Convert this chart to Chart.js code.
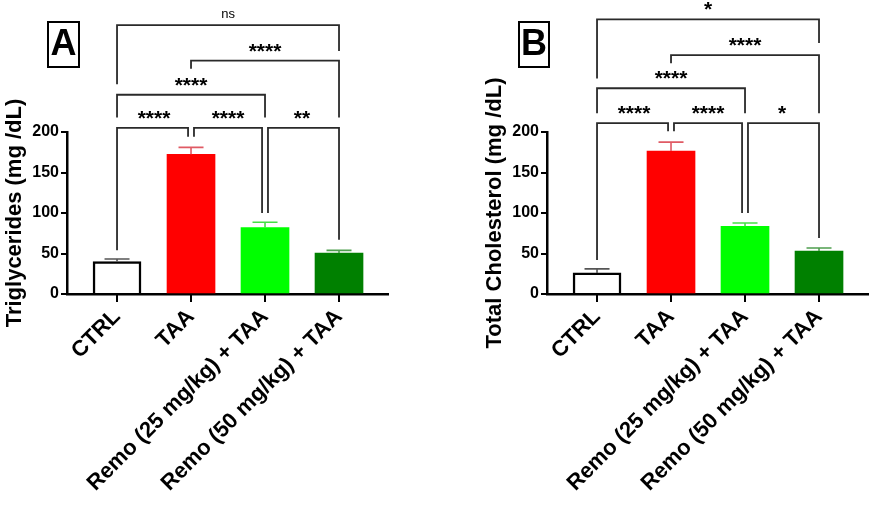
<!DOCTYPE html>
<html>
<head>
<script src="https://cdn.jsdelivr.net/npm/chart.js@4"></script>
<style>
  body { margin: 0; background: #fff; }
  .panel { position: absolute; top: 0; height: 505px; }
  #wrapA { left: 0; width: 480px; }
  #wrapB { left: 480px; width: 392px; }
</style>
</head>
<body>
<div class="panel" id="wrapA"><canvas id="chartA"></canvas></div>
<div class="panel" id="wrapB"><canvas id="chartB"></canvas></div>
<script>
const categories = ['CTRL', 'TAA', 'Remo (25 mg/kg) + TAA', 'Remo (50 mg/kg) + TAA'];
const trigMean = [40, 172.5, 82, 50.5];
const trigSem = [3.3, 8.5, 6.5, 3.3];
const cholMean = [26, 176.5, 83.5, 53];
const cholSem = [5, 11, 4.2, 3.8];
const yTicks = [0, 50, 100, 150, 200];

// multiple comparisons, same order for both panels
const pairs = [[0, 1], [1, 2], [2, 3], [0, 2], [1, 3], [0, 3]];
const trigSig = ['****', '****', '**', '****', '****', 'ns'];
const cholSig = ['****', '****', '*', '****', '****', '*'];

const FONT = "'Liberation Sans', Arial, sans-serif";
const barFill = ['#ffffff', '#ff0000', '#00ff00', '#008000'];
const barEdge = ['#000000', '#ff0000', '#00ff00', '#008000'];
const errColor = ['#555555', '#e05a64', '#44e044', '#4f9f4f'];

// bracket layout: bar height in y units, drop ends, small x nudges
const trigLayout = [
  {h: 205, l: 54, r: 194, dl: 0, dr: -0.04},
  {h: 205, l: 194, r: 100, dl: 0.04, dr: -0.04},
  {h: 205, l: 100, r: 67, dl: 0.04, dr: 0},
  {h: 246, l: 218, r: 218, dl: 0, dr: 0},
  {h: 288, l: 278, r: 218, dl: 0, dr: 0},
  {h: 332, l: 259, r: 300, dl: 0, dr: 0}
];
const cholLayout = [
  {h: 211, l: 42, r: 201, dl: 0, dr: -0.04},
  {h: 211, l: 201, r: 100, dl: 0.04, dr: -0.04},
  {h: 211, l: 100, r: 69, dl: 0.04, dr: 0},
  {h: 254, l: 223, r: 223, dl: 0, dr: 0},
  {h: 295, l: 285, r: 223, dl: 0, dr: 0},
  {h: 339, l: 266, r: 310, dl: 0, dr: 0}
];

const extras = {
  id: 'extras',
  afterDatasetsDraw(chart, args, o) {
    const ctx = chart.ctx;
    const xs = chart.scales.x, ys = chart.scales.y;
    ctx.save();
    // x tick marks under the axis
    ctx.strokeStyle = '#000';
    ctx.lineWidth = 2;
    ctx.beginPath();
    categories.forEach((c, i) => {
      const px = Math.round(xs.getPixelForValue(i));
      ctx.moveTo(px, chart.chartArea.bottom);
      ctx.lineTo(px, chart.chartArea.bottom + 8);
    });
    ctx.stroke();
    // error bars (upper only)
    o.mean.forEach((m, i) => {
      const px = xs.getPixelForValue(i);
      const y0 = ys.getPixelForValue(m);
      const y1 = ys.getPixelForValue(m + o.sem[i]);
      ctx.strokeStyle = errColor[i];
      ctx.lineWidth = 1.6;
      ctx.beginPath();
      ctx.moveTo(px, y0);
      ctx.lineTo(px, y1);
      ctx.moveTo(px - 12.5, y1);
      ctx.lineTo(px + 12.5, y1);
      ctx.stroke();
    });
    // significance brackets
    ctx.strokeStyle = '#2a2a2a';
    ctx.lineWidth = 1.8;
    ctx.fillStyle = '#000';
    ctx.textAlign = 'center';
    ctx.textBaseline = 'alphabetic';
    o.layout.forEach((b, k) => {
      const [a, c] = pairs[k];
      const xa = xs.getPixelForValue(a + b.dl);
      const xc = xs.getPixelForValue(c + b.dr);
      const yh = ys.getPixelForValue(b.h);
      ctx.beginPath();
      ctx.moveTo(xa, ys.getPixelForValue(b.l));
      ctx.lineTo(xa, yh);
      ctx.lineTo(xc, yh);
      ctx.lineTo(xc, ys.getPixelForValue(b.r));
      ctx.stroke();
      const mid = (xs.getPixelForValue(a) + xs.getPixelForValue(c)) / 2;
      const t = o.sig[k];
      if (t === 'ns') {
        ctx.font = '13px ' + FONT;
        ctx.fillText(t, mid, yh - 7);
      } else {
        ctx.font = 'bold 21px ' + FONT;
        ctx.fillText(t, mid, yh - 3);
      }
    });
    // panel letter
    const [bx, by, bw, bh] = o.box;
    ctx.lineWidth = 2;
    ctx.strokeStyle = '#000';
    ctx.strokeRect(bx, by, bw, bh);
    ctx.font = 'bold 36px ' + FONT;
    ctx.textBaseline = 'middle';
    ctx.fillText(o.letter, bx + bw / 2, by + bh / 2 + 1);
    ctx.restore();
  }
};

function makeChart(id, mean, sem, sig, layout, title, letter, box, padRight) {
  return new Chart(document.getElementById(id), {
    type: 'bar',
    data: {
      datasets: [{
        data: mean.map((v, i) => ({x: i, y: v})),
        backgroundColor: barFill,
        borderColor: barEdge,
        borderWidth: [2.5, 0, 0, 0],
        barThickness: 48
      }]
    },
    options: {
      responsive: true,
      maintainAspectRatio: false,
      animation: false,
      layout: {padding: {top: 132, right: padRight, bottom: 0, left: 0}},
      plugins: {
        legend: {display: false},
        tooltip: {enabled: false},
        extras: {mean, sem, sig, layout, letter, box}
      },
      scales: {
        x: {
          type: 'linear',
          min: -0.676,
          max: 3.662,
          offset: false,
          afterBuildTicks: s => { s.ticks = categories.map((c, i) => ({value: i})); },
          afterFit: s => { s.height = 211; },
          ticks: {
            callback: v => categories[v],
            minRotation: 45,
            maxRotation: 45,
            autoSkip: false,
            color: '#000',
            padding: 2,
            font: {family: FONT, size: 22, weight: 'bold'}
          },
          grid: {offset: false, drawOnChartArea: false, tickLength: 8, color: '#000', lineWidth: 2},
          border: {color: '#000', width: 2.5}
        },
        y: {
          min: 0,
          max: 200,
          afterBuildTicks: s => { s.ticks = yTicks.map(v => ({value: v})); },
          afterFit: s => { s.width = 67; },
          ticks: {color: '#000', padding: 2, font: {family: FONT, size: 16, weight: 'bold'}},
          grid: {drawOnChartArea: false, tickLength: 6, color: '#000', lineWidth: 2},
          border: {color: '#000', width: 2.5},
          title: {
            display: true,
            text: title,
            color: '#000',
            padding: {top: 2, bottom: 0},
            font: {family: FONT, size: 22, weight: 'bold'}
          }
        }
      }
    },
    plugins: [extras]
  });
}

makeChart('chartA', trigMean, trigSem, trigSig, trigLayout,
  'Triglycerides (mg /dL)', 'A', [48, 22, 31, 45], 92);
makeChart('chartB', cholMean, cholSem, cholSig, cholLayout,
  'Total Cholesterol (mg /dL)', 'B', [39, 22, 30, 45], 4);
</script>
</body>
</html>
